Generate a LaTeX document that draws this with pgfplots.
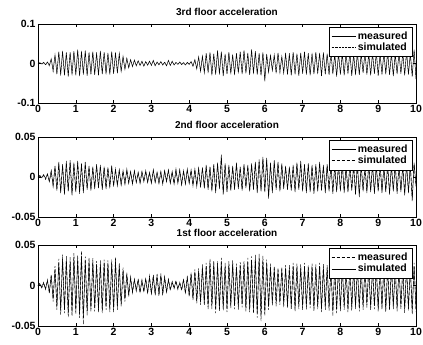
\documentclass[border=0pt]{standalone}
\usepackage{fontspec}
\setmainfont{Liberation Sans}
\usepackage{pgfplots}
\pgfplotsset{compat=1.18}
\usepackage{pgfplotstable}

\pgfplotstableread{
t m s
0.00 0.000 0.000
0.05 0.002 0.001
0.10 -0.001 -0.002
0.15 0.003 0.002
0.20 -0.003 -0.004
0.25 0.004 0.003
0.30 -0.005 -0.007
0.35 0.012 0.010
0.40 -0.018 -0.020
0.45 0.022 0.019
0.50 -0.026 -0.023
0.55 0.030 0.027
0.60 -0.028 -0.031
0.65 0.032 0.028
0.70 -0.030 -0.027
0.75 0.027 0.030
0.80 -0.033 -0.029
0.85 0.029 0.026
0.90 -0.027 -0.030
0.95 0.031 0.028
1.00 -0.030 -0.026
1.05 0.035 0.031
1.10 -0.032 -0.029
1.15 0.030 0.033
1.20 -0.028 -0.025
1.25 0.033 0.029
1.30 -0.031 -0.028
1.35 0.028 0.025
1.40 -0.026 -0.029
1.45 0.030 0.027
1.50 -0.029 -0.026
1.55 0.026 0.029
1.60 -0.030 -0.027
1.65 0.032 0.028
1.70 -0.027 -0.024
1.75 0.029 0.026
1.80 -0.025 -0.028
1.85 0.027 0.024
1.90 -0.028 -0.025
1.95 0.030 0.027
2.00 -0.026 -0.023
2.05 0.028 0.025
2.10 -0.024 -0.021
2.15 0.025 0.022
2.20 -0.020 -0.018
2.25 0.018 0.016
2.30 -0.015 -0.013
2.35 0.013 0.012
2.40 -0.011 -0.010
2.45 0.010 0.008
2.50 -0.008 -0.007
2.55 0.009 0.007
2.60 -0.006 -0.005
2.65 0.007 0.006
2.70 -0.005 -0.004
2.75 0.006 0.005
2.80 -0.007 -0.006
2.85 0.005 0.004
2.90 -0.004 -0.005
2.95 0.006 0.005
3.00 -0.005 -0.004
3.05 0.008 0.006
3.10 -0.006 -0.005
3.15 0.004 0.003
3.20 -0.003 -0.004
3.25 0.005 0.004
3.30 -0.004 -0.003
3.35 0.003 0.004
3.40 -0.006 -0.005
3.45 0.008 0.006
3.50 -0.005 -0.004
3.55 0.006 0.005
3.60 -0.004 -0.003
3.65 0.003 0.002
3.70 -0.002 -0.003
3.75 0.004 0.003
3.80 -0.003 -0.002
3.85 0.002 0.003
3.90 -0.004 -0.003
3.95 0.003 0.002
4.00 -0.002 -0.003
4.05 0.005 0.004
4.10 -0.007 -0.006
4.15 0.010 0.008
4.20 -0.014 -0.012
4.25 0.017 0.015
4.30 -0.020 -0.018
4.35 0.018 0.020
4.40 -0.024 -0.021
4.45 0.026 0.023
4.50 -0.022 -0.025
4.55 0.028 0.025
4.60 -0.030 -0.027
4.65 0.025 0.022
4.70 -0.028 -0.025
4.75 0.033 0.029
4.80 -0.026 -0.029
4.85 0.030 0.027
4.90 -0.032 -0.028
4.95 0.024 0.021
5.00 -0.027 -0.024
5.05 0.029 0.026
5.10 -0.025 -0.028
5.15 0.022 0.019
5.20 -0.028 -0.025
5.25 0.026 0.023
5.30 -0.023 -0.026
5.35 0.030 0.027
5.40 -0.027 -0.024
5.45 0.033 0.030
5.50 -0.025 -0.022
5.55 0.027 0.024
5.60 -0.029 -0.026
5.65 0.036 0.032
5.70 -0.024 -0.027
5.75 0.031 0.028
5.80 -0.028 -0.025
5.85 0.026 0.023
5.90 -0.030 -0.027
5.95 0.028 0.025
6.00 -0.045 -0.038
6.05 0.024 0.021
6.10 -0.022 -0.019
6.15 0.020 0.022
6.20 -0.018 -0.016
6.25 0.022 0.019
6.30 -0.025 -0.022
6.35 0.027 0.024
6.40 -0.020 -0.023
6.45 0.018 0.016
6.50 -0.024 -0.021
6.55 0.026 0.023
6.60 -0.028 -0.025
6.65 0.024 0.027
6.70 -0.030 -0.026
6.75 0.029 0.025
6.80 -0.026 -0.023
6.85 0.025 0.022
6.90 -0.031 -0.027
6.95 0.027 0.024
7.00 -0.024 -0.027
7.05 0.030 0.026
7.10 -0.028 -0.025
7.15 0.026 0.023
7.20 -0.030 -0.026
7.25 0.024 0.027
7.30 -0.027 -0.024
7.35 0.029 0.026
7.40 -0.025 -0.022
7.45 0.027 0.024
7.50 -0.032 -0.028
7.55 0.028 0.025
7.60 -0.026 -0.029
7.65 0.025 0.022
7.70 -0.029 -0.026
7.75 0.030 0.027
7.80 -0.027 -0.024
7.85 0.024 0.021
7.90 -0.033 -0.029
7.95 0.026 0.023
8.00 -0.028 -0.025
8.05 0.025 0.028
8.10 -0.030 -0.027
8.15 0.027 0.024
8.20 -0.025 -0.022
8.25 0.029 0.026
8.30 -0.031 -0.027
8.35 0.024 0.021
8.40 -0.027 -0.030
8.45 0.028 0.025
8.50 -0.029 -0.026
8.55 0.026 0.023
8.60 -0.024 -0.021
8.65 0.030 0.027
8.70 -0.028 -0.025
8.75 0.025 0.028
8.80 -0.030 -0.027
8.85 0.027 0.024
8.90 -0.026 -0.023
8.95 0.029 0.026
9.00 -0.031 -0.028
9.05 0.024 0.021
9.10 -0.027 -0.024
9.15 0.028 0.025
9.20 -0.025 -0.028
9.25 0.030 0.027
9.30 -0.029 -0.026
9.35 0.026 0.023
9.40 -0.032 -0.029
9.45 0.025 0.022
9.50 -0.027 -0.024
9.55 0.029 0.026
9.60 -0.026 -0.023
9.65 0.028 0.025
9.70 -0.030 -0.027
9.75 0.031 0.028
9.80 -0.028 -0.025
9.85 0.026 0.023
9.90 -0.033 -0.030
9.95 0.035 0.031
10.00 -0.040 -0.036
}\thirdfloor

\pgfplotstableread{
t m s
0.00 0.000 0.000
0.05 0.002 0.001
0.10 -0.001 0.000
0.15 0.003 0.002
0.20 -0.002 -0.003
0.25 0.004 0.003
0.30 -0.006 -0.005
0.35 0.008 0.007
0.40 -0.012 -0.010
0.45 0.014 0.012
0.50 -0.017 -0.015
0.55 0.019 0.016
0.60 -0.020 -0.018
0.65 0.016 0.014
0.70 -0.022 -0.019
0.75 0.020 0.017
0.80 -0.018 -0.016
0.85 0.021 0.018
0.90 -0.023 -0.020
0.95 0.018 0.016
1.00 -0.019 -0.017
1.05 0.020 0.018
1.10 -0.021 -0.018
1.15 0.017 0.015
1.20 -0.020 -0.017
1.25 0.019 0.016
1.30 -0.016 -0.014
1.35 0.014 0.012
1.40 -0.017 -0.015
1.45 0.013 0.011
1.50 -0.015 -0.013
1.55 0.016 0.014
1.60 -0.014 -0.012
1.65 0.015 0.013
1.70 -0.016 -0.014
1.75 0.013 0.011
1.80 -0.015 -0.013
1.85 0.012 0.011
1.90 -0.013 -0.012
1.95 0.014 0.012
2.00 -0.012 -0.010
2.05 0.010 0.009
2.10 -0.011 -0.009
2.15 0.009 0.008
2.20 -0.010 -0.009
2.25 0.008 0.007
2.30 -0.009 -0.008
2.35 0.010 0.008
2.40 -0.008 -0.007
2.45 0.007 0.006
2.50 -0.009 -0.008
2.55 0.008 0.007
2.60 -0.007 -0.006
2.65 0.006 0.005
2.70 -0.008 -0.007
2.75 0.007 0.006
2.80 -0.006 -0.005
2.85 0.008 0.007
2.90 -0.007 -0.006
2.95 0.006 0.005
3.00 -0.008 -0.007
3.05 0.009 0.008
3.10 -0.007 -0.006
3.15 0.006 0.005
3.20 -0.008 -0.007
3.25 0.007 0.006
3.30 -0.009 -0.008
3.35 0.008 0.007
3.40 -0.006 -0.005
3.45 0.009 0.008
3.50 -0.008 -0.007
3.55 0.007 0.006
3.60 -0.009 -0.008
3.65 0.010 0.008
3.70 -0.008 -0.007
3.75 0.009 0.008
3.80 -0.010 -0.009
3.85 0.008 0.007
3.90 -0.009 -0.008
3.95 0.010 0.009
4.00 -0.008 -0.007
4.05 0.009 0.008
4.10 -0.011 -0.010
4.15 0.010 0.009
4.20 -0.012 -0.010
4.25 0.011 0.010
4.30 -0.013 -0.011
4.35 0.012 0.010
4.40 -0.014 -0.012
4.45 0.015 0.013
4.50 -0.016 -0.014
4.55 0.013 0.012
4.60 -0.018 -0.016
4.65 0.016 0.014
4.70 -0.020 -0.017
4.75 0.018 0.016
4.80 -0.015 -0.013
4.85 0.028 0.024
4.90 -0.022 -0.019
4.95 0.017 0.015
5.00 -0.019 -0.017
5.05 0.015 0.013
5.10 -0.017 -0.015
5.15 0.014 0.012
5.20 -0.016 -0.014
5.25 0.018 0.016
5.30 -0.015 -0.013
5.35 0.013 0.011
5.40 -0.017 -0.015
5.45 0.016 0.014
5.50 -0.014 -0.012
5.55 0.015 0.013
5.60 -0.018 -0.016
5.65 0.017 0.015
5.70 -0.016 -0.014
5.75 0.019 0.017
5.80 -0.020 -0.017
5.85 0.022 0.019
5.90 -0.018 -0.016
5.95 0.025 0.022
6.00 -0.019 -0.017
6.05 0.024 0.021
6.10 -0.027 -0.023
6.15 0.018 0.016
6.20 -0.020 -0.017
6.25 0.021 0.018
6.30 -0.016 -0.014
6.35 0.019 0.017
6.40 -0.018 -0.016
6.45 0.017 0.015
6.50 -0.015 -0.013
6.55 0.014 0.012
6.60 -0.016 -0.014
6.65 0.013 0.011
6.70 -0.017 -0.015
6.75 0.015 0.013
6.80 -0.019 -0.016
6.85 0.018 0.016
6.90 -0.016 -0.014
6.95 0.020 0.017
7.00 -0.018 -0.016
7.05 0.016 0.014
7.10 -0.020 -0.017
7.15 0.017 0.015
7.20 -0.019 -0.016
7.25 0.015 0.013
7.30 -0.021 -0.018
7.35 0.016 0.014
7.40 -0.018 -0.016
7.45 0.019 0.016
7.50 -0.017 -0.015
7.55 0.015 0.013
7.60 -0.020 -0.017
7.65 0.016 0.014
7.70 -0.018 -0.016
7.75 0.017 0.015
7.80 -0.021 -0.018
7.85 0.015 0.013
7.90 -0.019 -0.017
7.95 0.016 0.014
8.00 -0.018 -0.016
8.05 0.017 0.015
8.10 -0.020 -0.017
8.15 0.014 0.012
8.20 -0.019 -0.017
8.25 0.016 0.014
8.30 -0.017 -0.015
8.35 0.015 0.013
8.40 -0.022 -0.019
8.45 0.017 0.015
8.50 -0.025 -0.021
8.55 0.016 0.014
8.60 -0.018 -0.016
8.65 0.015 0.013
8.70 -0.020 -0.017
8.75 0.017 0.015
8.80 -0.019 -0.016
8.85 0.016 0.014
8.90 -0.021 -0.018
8.95 0.015 0.013
9.00 -0.018 -0.016
9.05 0.017 0.015
9.10 -0.020 -0.017
9.15 0.014 0.012
9.20 -0.019 -0.017
9.25 0.016 0.014
9.30 -0.022 -0.019
9.35 0.015 0.013
9.40 -0.018 -0.016
9.45 0.017 0.015
9.50 -0.021 -0.018
9.55 0.016 0.014
9.60 -0.019 -0.016
9.65 0.015 0.013
9.70 -0.023 -0.020
9.75 0.017 0.015
9.80 -0.020 -0.017
9.85 0.016 0.014
9.90 -0.030 -0.026
9.95 0.018 0.016
10.00 -0.012 -0.010
}\secondfloor

\pgfplotstableread{
t m s
0.00 0.000 0.000
0.05 0.003 0.002
0.10 -0.002 -0.003
0.15 0.004 0.003
0.20 -0.005 -0.004
0.25 0.007 0.006
0.30 -0.010 -0.008
0.35 0.014 0.012
0.40 -0.020 -0.017
0.45 0.024 0.020
0.50 -0.030 -0.026
0.55 0.033 0.028
0.60 -0.036 -0.031
0.65 0.038 0.033
0.70 -0.034 -0.030
0.75 0.037 0.032
0.80 -0.039 -0.034
0.85 0.035 0.030
0.90 -0.038 -0.033
0.95 0.040 0.035
1.00 -0.036 -0.031
1.05 0.038 0.033
1.10 -0.040 -0.035
1.15 0.043 0.037
1.20 -0.048 -0.040
1.25 0.036 0.031
1.30 -0.037 -0.032
1.35 0.035 0.030
1.40 -0.033 -0.029
1.45 0.034 0.029
1.50 -0.032 -0.028
1.55 0.030 0.026
1.60 -0.033 -0.029
1.65 0.031 0.027
1.70 -0.034 -0.030
1.75 0.032 0.028
1.80 -0.030 -0.026
1.85 0.031 0.027
1.90 -0.033 -0.029
1.95 0.032 0.028
2.00 -0.034 -0.030
2.05 0.035 0.030
2.10 -0.030 -0.026
2.15 0.028 0.024
2.20 -0.026 -0.023
2.25 0.022 0.019
2.30 -0.020 -0.017
2.35 0.016 0.014
2.40 -0.014 -0.012
2.45 0.011 0.009
2.50 -0.009 -0.008
2.55 0.008 0.007
2.60 -0.007 -0.006
2.65 0.008 0.007
2.70 -0.009 -0.008
2.75 0.007 0.006
2.80 -0.008 -0.007
2.85 0.009 0.008
2.90 -0.010 -0.009
2.95 0.012 0.010
3.00 -0.011 -0.010
3.05 0.013 0.011
3.10 -0.012 -0.010
3.15 0.014 0.012
3.20 -0.013 -0.011
3.25 0.015 0.013
3.30 -0.012 -0.010
3.35 0.011 0.010
3.40 -0.009 -0.008
3.45 0.008 0.007
3.50 -0.006 -0.005
3.55 0.005 0.004
3.60 -0.004 -0.003
3.65 0.006 0.005
3.70 -0.005 -0.004
3.75 0.004 0.003
3.80 -0.006 -0.005
3.85 0.008 0.007
3.90 -0.010 -0.009
3.95 0.012 0.010
4.00 -0.014 -0.012
4.05 0.016 0.014
4.10 -0.018 -0.016
4.15 0.020 0.017
4.20 -0.022 -0.019
4.25 0.021 0.018
4.30 -0.024 -0.021
4.35 0.026 0.022
4.40 -0.025 -0.022
4.45 0.028 0.024
4.50 -0.030 -0.026
4.55 0.033 0.028
4.60 -0.029 -0.025
4.65 0.031 0.027
4.70 -0.034 -0.029
4.75 0.030 0.026
4.80 -0.032 -0.028
4.85 0.034 0.029
4.90 -0.031 -0.027
4.95 0.028 0.024
5.00 -0.033 -0.029
5.05 0.030 0.026
5.10 -0.028 -0.024
5.15 0.031 0.027
5.20 -0.029 -0.025
5.25 0.027 0.023
5.30 -0.030 -0.026
5.35 0.029 0.025
5.40 -0.027 -0.023
5.45 0.030 0.026
5.50 -0.032 -0.028
5.55 0.034 0.029
5.60 -0.033 -0.029
5.65 0.036 0.031
5.70 -0.035 -0.030
5.75 0.038 0.033
5.80 -0.040 -0.034
5.85 0.039 0.034
5.90 -0.044 -0.037
5.95 0.037 0.032
6.00 -0.038 -0.033
6.05 0.032 0.028
6.10 -0.030 -0.026
6.15 0.027 0.023
6.20 -0.025 -0.022
6.25 0.024 0.021
6.30 -0.026 -0.022
6.35 0.022 0.019
6.40 -0.024 -0.021
6.45 0.023 0.020
6.50 -0.027 -0.023
6.55 0.025 0.022
6.60 -0.028 -0.024
6.65 0.026 0.022
6.70 -0.030 -0.026
6.75 0.028 0.024
6.80 -0.032 -0.028
6.85 0.027 0.023
6.90 -0.029 -0.025
6.95 0.026 0.022
7.00 -0.031 -0.027
7.05 0.028 0.024
7.10 -0.030 -0.026
7.15 0.025 0.022
7.20 -0.028 -0.024
7.25 0.027 0.023
7.30 -0.032 -0.028
7.35 0.026 0.022
7.40 -0.029 -0.025
7.45 0.028 0.024
7.50 -0.033 -0.029
7.55 0.027 0.023
7.60 -0.030 -0.026
7.65 0.025 0.022
7.70 -0.031 -0.027
7.75 0.026 0.022
7.80 -0.038 -0.032
7.85 0.024 0.021
7.90 -0.034 -0.029
7.95 0.027 0.023
8.00 -0.032 -0.028
8.05 0.026 0.022
8.10 -0.030 -0.026
8.15 0.025 0.022
8.20 -0.033 -0.029
8.25 0.027 0.023
8.30 -0.031 -0.027
8.35 0.024 0.021
8.40 -0.029 -0.025
8.45 0.026 0.022
8.50 -0.032 -0.028
8.55 0.025 0.022
8.60 -0.030 -0.026
8.65 0.027 0.023
8.70 -0.028 -0.024
8.75 0.026 0.022
8.80 -0.031 -0.027
8.85 0.024 0.021
8.90 -0.029 -0.025
8.95 0.026 0.022
9.00 -0.032 -0.028
9.05 0.025 0.022
9.10 -0.030 -0.026
9.15 0.027 0.023
9.20 -0.033 -0.029
9.25 0.024 0.021
9.30 -0.031 -0.027
9.35 0.026 0.022
9.40 -0.029 -0.025
9.45 0.025 0.022
9.50 -0.032 -0.028
9.55 0.027 0.023
9.60 -0.030 -0.026
9.65 0.024 0.021
9.70 -0.034 -0.029
9.75 0.026 0.022
9.80 -0.031 -0.027
9.85 0.025 0.022
9.90 -0.036 -0.031
9.95 0.028 0.024
10.00 -0.033 -0.029
}\firstfloor

\pgfplotsset{
  floor/.style={
    scale only axis, width=378pt,
    xmin=0, xmax=10, xtick={0,1,...,10},
    tick align=inside, xtick pos=both, ytick pos=both,
    major tick length=3pt,
    axis line style={black, line width=0.6pt},
    tick style={black, line width=0.5pt},
    tick label style={font=\bfseries\fontsize{10.5}{11}\selectfont},
    /pgf/number format/assume math mode=true,
    scaled y ticks=false,
    yticklabel style={/pgf/number format/fixed, /pgf/number format/precision=2, xshift=1pt},
    xticklabel style={yshift=1pt},
    title style={font=\bfseries\fontsize{10}{11}\selectfont, at={(0.5,1)}, anchor=south, yshift=0pt, inner sep=2pt},
    legend style={at={(0.99,0.965)}, anchor=north east, draw=black, line width=0.5pt,
      font=\bfseries\fontsize{10.5}{11}\selectfont, row sep=-1.5pt, inner sep=2.5pt,
      cells={anchor=west}},
    legend image code/.code={\draw[#1] (0pt,0pt) -- (24pt,0pt);},
    clip=true,
  },
}

\begin{document}
\begin{tikzpicture}
\path[use as bounding box] (0pt,0pt) rectangle (423pt,-345pt);

\begin{axis}[floor, at={(38pt,-103pt)}, anchor=south west, height=79pt,
  ymin=-0.1, ymax=0.1, ytick={-0.1,0,0.1},
  title={3rd floor acceleration}]
\addplot[black, line width=0.45pt] table[x=t, y=m] {\thirdfloor};
\addplot[black, line width=0.45pt, densely dotted] table[x=t, y=s] {\thirdfloor};
\legend{measured, simulated}
\end{axis}

\begin{axis}[floor, at={(38pt,-217pt)}, anchor=south west, height=80pt,
  ymin=-0.05, ymax=0.05, ytick={-0.05,0,0.05},
  title={2nd floor acceleration}]
\addplot[black, line width=0.45pt] table[x=t, y=m] {\secondfloor};
\addplot[black, line width=0.45pt, densely dashed] table[x=t, y=s] {\secondfloor};
\legend{measured, simulated}
\end{axis}

\begin{axis}[floor, at={(38pt,-326pt)}, anchor=south west, height=81pt,
  ymin=-0.05, ymax=0.05, ytick={-0.05,0,0.05},
  title={1st floor acceleration}]
\addplot[black, line width=0.45pt, densely dashed] table[x=t, y=m] {\firstfloor};
\addplot[black, line width=0.45pt] table[x=t, y=s] {\firstfloor};
\legend{measured, simulated}
\end{axis}
\end{tikzpicture}
\end{document}
